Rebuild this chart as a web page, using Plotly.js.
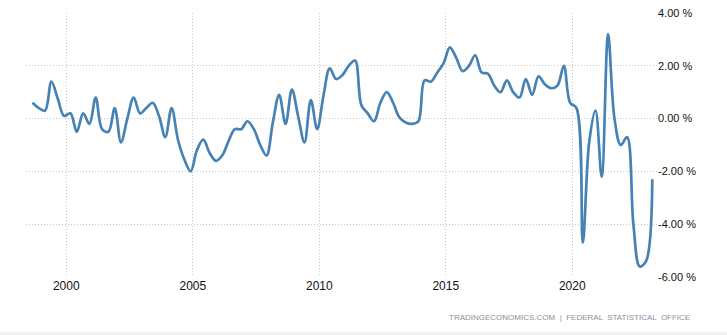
<!DOCTYPE html>
<html>
<head>
<meta charset="utf-8">
<script src="https://cdn.plot.ly/plotly-3.0.1.min.js"></script>
<style>
  html, body { margin: 0; padding: 0; background: #ffffff; }
  #chart { width: 727px; height: 335px; }
</style>
</head>
<body>
<div id="chart"></div>
<script>
// Quarterly year-on-year change (%) from 1998 Q3 to 2023 Q1
const firstYear = 1998;
const firstQuarter = 3;
const values = [
  0.6, 0.4,                 // 1998 Q3-Q4
  0.3, 1.4, 0.75, 0.1,      // 1999
  0.2, -0.5, 0.2, -0.2,     // 2000
  0.8, -0.4, -0.5, 0.4,     // 2001
  -0.9, 0.0, 0.8, 0.2,      // 2002
  0.4, 0.6, 0.1, -0.7,      // 2003
  0.4, -0.8, -1.55, -2.0,   // 2004
  -1.2, -0.8, -1.3, -1.6,   // 2005
  -1.4, -0.85, -0.4, -0.4,  // 2006
  -0.1, -0.4, -1.0, -1.4,   // 2007
  -0.15, 0.9, -0.2, 1.1,    // 2008
  0.1, -0.9, 0.7, -0.4,     // 2009
  0.85, 1.9, 1.5, 1.65,     // 2010
  2.0, 2.2, 0.5, 0.2,       // 2011
  -0.1, 0.6, 1.0, 0.6,      // 2012
  0.05, -0.15, -0.2, -0.1,  // 2013
  1.45, 1.4, 1.75, 2.1,     // 2014
  2.7, 2.3, 1.8, 2.0,       // 2015
  2.4, 1.75, 1.7, 1.25,     // 2016
  1.0, 1.45, 1.0, 0.8,      // 2017
  1.5, 0.9, 1.6, 1.3,       // 2018
  1.15, 1.25, 2.0, 0.6,     // 2019
  0.4, -4.7, -0.9, 0.3,     // 2020
  -2.2, 3.2, 0.0, -1.0,     // 2021
  -0.7, -4.0, -5.6, -5.4,   // 2022
  -2.3                      // 2023 Q1
];
const xTickYears = [2000, 2005, 2010, 2015, 2020];
const yTickValues = [-6, -4, -2, 0, 2, 4];
const sourceText = "TRADINGECONOMICS.COM  |  FEDERAL  STATISTICAL  OFFICE";

// each quarter is placed at the first day of its last month
function quarterDate(index) {
  const q0 = (firstQuarter - 1) + index;
  const y = firstYear + Math.floor(q0 / 4);
  const q = (q0 % 4) + 1;
  const m = 3 * q;
  return y + "-" + String(m).padStart(2, "0") + "-01";
}
const dates = values.map((v, i) => quarterDate(i));

const trace = {
  x: dates,
  y: values,
  type: "scatter",
  mode: "lines",
  line: { color: "#4682b4", width: 2.7, shape: "spline", smoothing: 1 },
  hoverinfo: "skip"
};

const layout = {
  width: 727,
  height: 335,
  margin: { l: 26, r: 70, t: 13, b: 58, pad: 0 },
  paper_bgcolor: "#ffffff",
  plot_bgcolor: "#ffffff",
  showlegend: false,
  font: { family: "Liberation Sans, Arial, sans-serif", size: 11, color: "#222" },
  xaxis: {
    type: "date",
    range: ["1998-05-30", "2023-05-08"],
    tickvals: xTickYears.map(y => y + "-01-01"),
    ticktext: xTickYears.map(String),
    showgrid: true,
    gridcolor: "#c8c8c8",
    griddash: "1px,2px",
    gridwidth: 1,
    zeroline: false,
    showline: false,
    ticks: "",
    tickfont: { size: 12, color: "#111" },
    fixedrange: true
  },
  yaxis: {
    side: "right",
    range: [-6, 4],
    tickvals: yTickValues,
    ticktext: yTickValues.map(v => v.toFixed(2) + " %"),
    showgrid: true,
    gridcolor: "#c8c8c8",
    griddash: "1px,2px",
    gridwidth: 1,
    zeroline: false,
    showline: false,
    ticks: "",
    tickfont: { size: 11, color: "#111" },
    fixedrange: true
  },
  shapes: [{
    type: "rect", xref: "paper", yref: "paper",
    x0: -0.05, x1: 1.2, y0: -0.22, y1: -0.208,
    fillcolor: "#f2f2f2", line: { width: 0 }, layer: "below"
  }],
  annotations: [{
    text: sourceText,
    xref: "paper", yref: "paper",
    x: 1.055, y: -0.155,
    xanchor: "right", yanchor: "middle",
    showarrow: false,
    font: { size: 8, color: "#8a8f9a", family: "Liberation Sans, Arial, sans-serif" }
  }]
};

Plotly.newPlot("chart", [trace], layout, { displayModeBar: false, staticPlot: true });
</script>
</body>
</html>
